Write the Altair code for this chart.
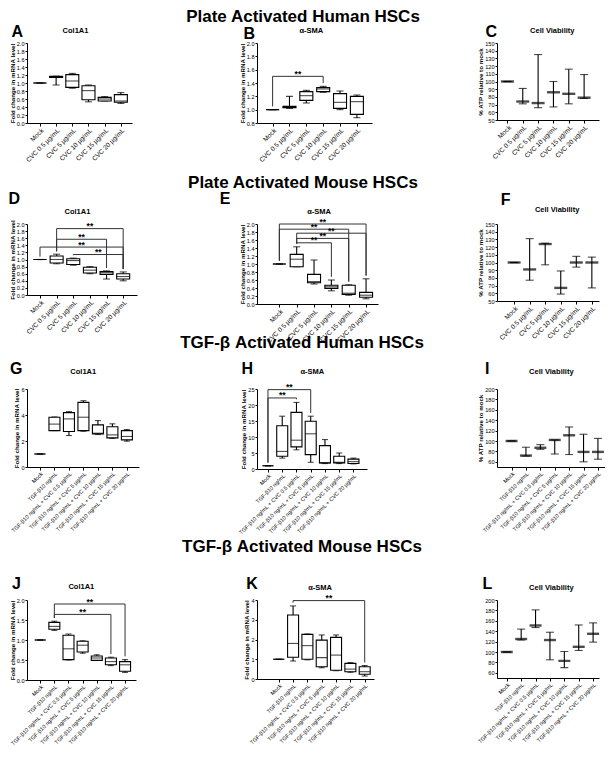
import altair as alt
import pandas as pd

FONT = "Liberation Sans"
SX = 0.97  # horizontal compaction so the whole figure fits the 600px page

CVC = ["Mock", "CVC 0.5 µg/mL", "CVC 5 µg/mL", "CVC 10 µg/mL", "CVC 15 µg/mL", "CVC 20 µg/mL"]
TGF = ["Mock", "TGF-β10 ng/mL", "TGF-β10 ng/mL + CVC 0.5 µg/mL", "TGF-β10 ng/mL + CVC 5 µg/mL",
       "TGF-β10 ng/mL + CVC 10 µg/mL", "TGF-β10 ng/mL + CVC 15 µg/mL", "TGF-β10 ng/mL + CVC 20 µg/mL"]

HEADINGS = ["Plate Activated Human HSCs", "Plate Activated Mouse HSCs",
            "TGF-β Activated Human HSCs", "TGF-β Activated Mouse HSCs"]

# ---- box plots: min, q1, median, q3, max ----
A_min = [1.0, 0.95, 0.87, 0.53, 0.55, 0.49]
A_q1 = [1.0, 1.14, 0.89, 0.58, 0.55, 0.52]
A_med = [1.0, 1.16, 1.05, 0.81, 0.60, 0.55]
A_q3 = [1.0, 1.17, 1.21, 0.93, 0.64, 0.71]
A_max = [1.0, 1.17, 1.24, 0.95, 0.66, 0.76]

B_min = [1.0, 1.02, 1.10, 1.26, 1.00, 0.88]
B_q1 = [1.0, 1.03, 1.14, 1.27, 1.02, 0.93]
B_med = [1.0, 1.04, 1.21, 1.31, 1.11, 1.12]
B_q3 = [1.0, 1.05, 1.27, 1.33, 1.24, 1.20]
B_max = [1.0, 1.20, 1.29, 1.35, 1.28, 1.22]

D_min = [1.0, 0.88, 0.84, 0.60, 0.45, 0.40]
D_q1 = [1.0, 0.90, 0.86, 0.62, 0.58, 0.45]
D_med = [1.0, 1.00, 0.97, 0.70, 0.63, 0.52]
D_q3 = [1.0, 1.10, 1.02, 0.78, 0.66, 0.60]
D_max = [1.0, 1.15, 1.04, 0.80, 0.68, 0.65]

E_min = [1.0, 0.93, 0.50, 0.33, 0.22, 0.13]
E_q1 = [1.0, 0.93, 0.53, 0.39, 0.24, 0.17]
E_med = [1.0, 1.12, 0.56, 0.43, 0.27, 0.22]
E_q3 = [1.0, 1.24, 0.74, 0.47, 0.47, 0.29]
E_max = [1.0, 1.43, 1.10, 0.60, 0.48, 0.63]

G_min = [1.0, 2.80, 2.42, 2.75, 2.50, 2.20, 1.99]
G_q1 = [1.0, 2.80, 2.73, 2.80, 2.55, 2.24, 2.09]
G_med = [1.0, 3.30, 3.70, 3.83, 2.60, 2.47, 2.35]
G_q3 = [1.0, 3.83, 4.18, 4.97, 3.24, 3.10, 2.80]
G_max = [1.0, 3.85, 4.26, 5.10, 3.57, 3.32, 2.88]

H_min = [1.0, 3.4, 6.0, 2.1, 1.7, 1.7, 1.6]
H_q1 = [1.0, 4.0, 6.9, 4.5, 1.9, 1.9, 1.7]
H_med = [1.0, 5.5, 9.0, 11.0, 1.9, 2.1, 2.3]
H_q3 = [1.0, 13.5, 17.7, 14.9, 7.3, 4.0, 3.1]
H_max = [1.0, 16.5, 20.8, 16.5, 9.2, 5.0, 3.4]

J_min = [1.0, 1.24, 0.50, 0.67, 0.49, 0.36, 0.19]
J_q1 = [1.0, 1.27, 0.51, 0.70, 0.49, 0.38, 0.22]
J_med = [1.0, 1.34, 0.78, 0.87, 0.55, 0.46, 0.38]
J_q3 = [1.0, 1.44, 1.12, 0.97, 0.60, 0.55, 0.46]
J_max = [1.0, 1.47, 1.15, 0.98, 0.63, 0.57, 0.51]

K_min = [1.0, 0.91, 0.97, 0.57, 0.42, 0.34, 0.15]
K_q1 = [1.0, 1.10, 1.00, 0.62, 0.44, 0.37, 0.24]
K_med = [1.0, 1.80, 1.69, 1.08, 1.21, 0.50, 0.37]
K_q3 = [1.0, 3.24, 2.26, 1.97, 2.11, 0.79, 0.62]
K_max = [1.0, 3.70, 2.28, 2.23, 2.23, 0.83, 0.68]

# ---- cell viability: min, mean, max ----
C_min = [100, 71, 66, 67, 71, 78]
C_mean = [100, 74, 72, 86, 84, 79]
C_max = [100, 91, 135, 100, 116, 109]

F_min = [100, 77, 97, 59, 94, 67]
F_mean = [100, 91, 124, 67, 100, 100]
F_max = [100, 131, 125, 89, 108, 107]

I_min = [100, 71, 84, 75, 74, 60, 65]
I_mean = [100, 72, 87, 102, 111, 79, 79]
I_max = [100, 88, 93, 102, 127, 113, 105]

L_min = [100, 123, 147, 85, 70, 103, 119]
L_mean = [100, 125, 151, 123, 83, 110, 135]
L_max = [100, 144, 181, 138, 101, 152, 156]

# ---- significance brackets (group index pairs and bracket level) ----
B_pairs, B_levels = [(0, 3)], [1.5]
D_pairs, D_levels = [(1, 5), (1, 4), (0, 5), (2, 5)], [1.87, 1.57, 1.35, 1.14]
E_pairs, E_levels = [(0, 5), (0, 4), (1, 5), (1, 4), (1, 3)], [2.0, 1.87, 1.77, 1.64, 1.53]
H_pairs, H_levels = [(0, 3), (0, 2)], [24.8, 22.2]
J_pairs, J_levels = [(1, 6), (1, 5)], [1.9, 1.64]
K_pairs, K_levels = [(1, 6)], [3.97]

FOLD = "Fold change in mRNA level"
ATP = "% ATP relative to mock"


def text_layer(t, x, y, size, weight="bold", align="center"):
    return alt.Chart(pd.DataFrame({"t": [t]})).mark_text(
        font=FONT, fontSize=size, fontWeight=weight, align=align, baseline="middle", color="black"
    ).encode(x=alt.value(x), y=alt.value(y), text="t:N")


def panel(cats, stats, kind, ydom, yvals, yfmt, ytitle, w, h, xdom, letter, lxy, title, txy,
          boxw, capw, xfs, pairs=None, levels=None, head=None):
    w = round(w * SX)
    n = len(cats)
    df = pd.DataFrame({"i": list(range(n))})
    for k, v in stats.items():
        df[k] = v
    expr = "[" + ",".join("'" + c + "'" for c in cats) + "][datum.value]"
    xs = alt.Scale(domain=xdom, nice=False, zero=False)
    ys = alt.Scale(domain=ydom, nice=False, zero=False)
    xax = alt.Axis(values=list(range(n)), labelExpr=expr, labelAngle=-45, labelFontSize=xfs,
                   labelOverlap=False, labelFlush=False, title=None, labelPadding=1, tickSize=3)
    yargs = dict(values=yvals, format=yfmt, labelFontSize=5.6, labelOverlap=False, labelFlush=False,
                 labelPadding=1, tickSize=2)
    if ytitle:
        yargs.update(title=ytitle, titleFontSize=6.2, titleFontWeight="bold", titlePadding=1)
    else:
        yargs.update(title=None)
    yax = alt.Axis(**yargs)

    def X(f):
        return alt.X(f + ":Q", scale=xs, axis=xax)

    def Y(f):
        return alt.Y(f + ":Q", scale=ys, axis=yax)

    base = alt.Chart(df)
    sw = 1.1
    layers = [
        base.mark_rule(color="black", strokeWidth=sw).encode(x=X("i"), y=Y("mn"), y2=alt.Y2("mx")),
        base.mark_tick(color="black", orient="horizontal", size=capw, thickness=sw).encode(x=X("i"), y=Y("mn")),
        base.mark_tick(color="black", orient="horizontal", size=capw, thickness=sw).encode(x=X("i"), y=Y("mx")),
    ]
    if kind == "box":
        layers += [
            base.mark_bar(size=boxw, fill="white", stroke="black", strokeWidth=sw).encode(
                x=X("i"), y=Y("q1"), y2=alt.Y2("q3")),
            base.mark_tick(color="black", orient="horizontal", size=boxw, thickness=sw).encode(
                x=X("i"), y=Y("md")),
        ]
    else:
        layers += [
            base.mark_tick(color="black", orient="horizontal", size=boxw, thickness=2.4).encode(
                x=X("i"), y=Y("mean")),
        ]
    if pairs:
        gap = 0.04 * (ydom[1] - ydom[0])
        mx = stats["mx"]
        bdf = pd.DataFrame({
            "a": [p[0] for p in pairs],
            "b": [p[1] for p in pairs],
            "y": levels,
            "ya": [min(mx[p[0]] + gap, lv) for p, lv in zip(pairs, levels)],
            "yb": [min(mx[p[1]] + gap, lv) for p, lv in zip(pairs, levels)],
            "m": [(p[0] + p[1]) / 2 for p in pairs],
        })
        bb = alt.Chart(bdf)
        bc = "#333333"
        layers += [
            bb.mark_rule(color=bc, strokeWidth=1).encode(x=X("a"), x2=alt.X2("b"), y=Y("y")),
            bb.mark_rule(color=bc, strokeWidth=1).encode(x=X("a"), y=Y("y"), y2=alt.Y2("ya")),
            bb.mark_rule(color=bc, strokeWidth=1).encode(x=X("b"), y=Y("y"), y2=alt.Y2("yb")),
            bb.mark_text(text="**", font=FONT, fontSize=8.5, fontWeight="bold", baseline="bottom",
                         dy=2.5, color="black").encode(x=X("m"), y=Y("y")),
        ]
    layers += [text_layer(letter, lxy[0] * SX, lxy[1], 16),
               text_layer(title, txy[0] * SX, txy[1], 7.5)]
    if head:
        layers.append(text_layer(head[0], head[1], head[2], 17))
    return alt.layer(*layers).properties(width=w, height=h)


def box(mn, q1, md, q3, mx):
    return {"mn": mn, "q1": q1, "md": md, "q3": q3, "mx": mx}


def rng(mn, mean, mx):
    return {"mn": mn, "mean": mean, "mx": mx}


def spacer(w, h=1):
    return alt.Chart(pd.DataFrame({"t": [0]})).mark_point(opacity=0, size=1).encode(
        x=alt.value(0.5), y=alt.value(max(h - 1, 0.5))).properties(width=max(1, round(w * SX)), height=h)


v02 = [round(0.2 * k, 1) for k in range(11)]
v02b = [round(0.8 + 0.2 * k, 1) for k in range(7)]
v10 = list(range(50, 151, 10))
v20 = list(range(60, 201, 20))

pA = panel(CVC, box(A_min, A_q1, A_med, A_q3, A_max), "box", [0, 2], v02, ".1f", FOLD,
           108, 80, [-0.49, 5.38], "A", (-10, -11), "Col1A1", (50, -12), 13, 7, 6.5,
           head=(HEADINGS[0], 276, -26))
pB = panel(CVC, box(B_min, B_q1, B_med, B_q3, B_max), "box", [0.8, 2.0], v02b, ".1f", FOLD,
           119, 80, [-0.63, 5.6], "B", (-8, -9.5), "α-SMA", (56, -12), 13, 7, 6.5, B_pairs, B_levels)
pC = panel(CVC, rng(C_min, C_mean, C_max), "range", [50, 150], v10, "d", ATP,
           105, 77, [-0.68, 5.97], "C", (-6, -11), "Cell Viability", (57, -12), 13, 8, 6.5)

pD = panel(CVC, box(D_min, D_q1, D_med, D_q3, D_max), "box", [0, 2], v02, ".1f", FOLD,
           113, 71, [-0.48, 5.53], "D", (-13, -25), "Col1A1", (52, -12), 13, 7, 6.5, D_pairs, D_levels,
           head=(HEADINGS[1], 276, -41))
pE = panel(CVC, box(E_min, E_q1, E_med, E_q3, E_max), "box", [0, 2], v02, ".1f", FOLD,
           125, 80, [-1.0, 5.4], "E", (-33, -25), "α-SMA", (64, -12), 13, 7, 6.5, E_pairs, E_levels)
pF = panel(CVC, rng(F_min, F_mean, F_max), "range", [50, 150], v10, "d", ATP,
           105, 77, [-1.1, 5.46], "F", (9, -24), "Cell  Viability", (62, -14), 13, 8, 6.5)

pG = panel(TGF, box(G_min, G_q1, G_med, G_q3, G_max), "box", [0, 6], [0, 2, 4, 6], "d", FOLD,
           115, 78, [-0.55, 6.49], "G", (-11, -20), "Col1A1", (58, -17), 11, 6, 5.5,
           head=(HEADINGS[2], 275, -46))
pH = panel(TGF, box(H_min, H_q1, H_med, H_q3, H_max), "box", [0, 25], [0, 5, 10, 15, 20, 25], "d", FOLD,
           113, 80, [-0.42, 6.6], "H", (-10, -20), "α-SMA", (57, -17), 11, 6, 5.5, H_pairs, H_levels)
pI = panel(TGF, rng(I_min, I_mean, I_max), "range", [50, 200], v20, "d", ATP,
           111, 78, [-1.01, 6.49], "I", (-10, -20), "Cell Viability", (56, -17), 12, 8, 5.5)

pJ = panel(TGF, box(J_min, J_q1, J_med, J_q3, J_max), "box", [0, 2], [0, 0.5, 1, 1.5, 2], ".1f", FOLD,
           112, 80, [-0.58, 6.42], "J", (-11, -16), "Col1A1", (56, -13), 11, 6, 5.5, J_pairs, J_levels,
           head=(HEADINGS[3], 275, -53))
pK = panel(TGF, box(K_min, K_q1, K_med, K_q3, K_max), "box", [0, 4], [0, 1, 2, 3, 4], "d", FOLD,
           121, 79, [-1.17, 6.3], "K", (-5, -16), "α-SMA", (65, -12), 11, 6, 5.5, K_pairs, K_levels)
pL = panel(TGF, rng(L_min, L_mean, L_max), "range", [50, 200], v20, "d", None,
           105, 78, [-0.68, 6.41], "L", (-10, -16), "Cell  Viability", (56, -12), 12, 8, 5.5)


def gap_row(h):
    return [spacer(1, h), spacer(1), spacer(1), spacer(1), spacer(1), spacer(1)]


cells = (
    gap_row(35) + [spacer(1), pA, spacer(119), pB, spacer(119), pC]
    + gap_row(101) + [spacer(1), pD, spacer(108), pE, spacer(117), pF]
    + gap_row(85) + [spacer(2), pG, spacer(122), pH, spacer(112), pI]
    + gap_row(131) + [spacer(2), pJ, spacer(112), pK, spacer(123), pL]
)

chart = alt.concat(
    *cells, columns=6, spacing=0, bounds="flush", align={"row": "each", "column": "none"}
).properties(padding=0).configure_view(stroke=None).configure_axis(
    domainColor="black", tickColor="black", labelColor="black", titleColor="black",
    labelFont=FONT, titleFont=FONT, grid=False, domainWidth=1, tickWidth=1,
)

chart.save("out.html", embed_options={"renderer": "svg", "actions": False})
